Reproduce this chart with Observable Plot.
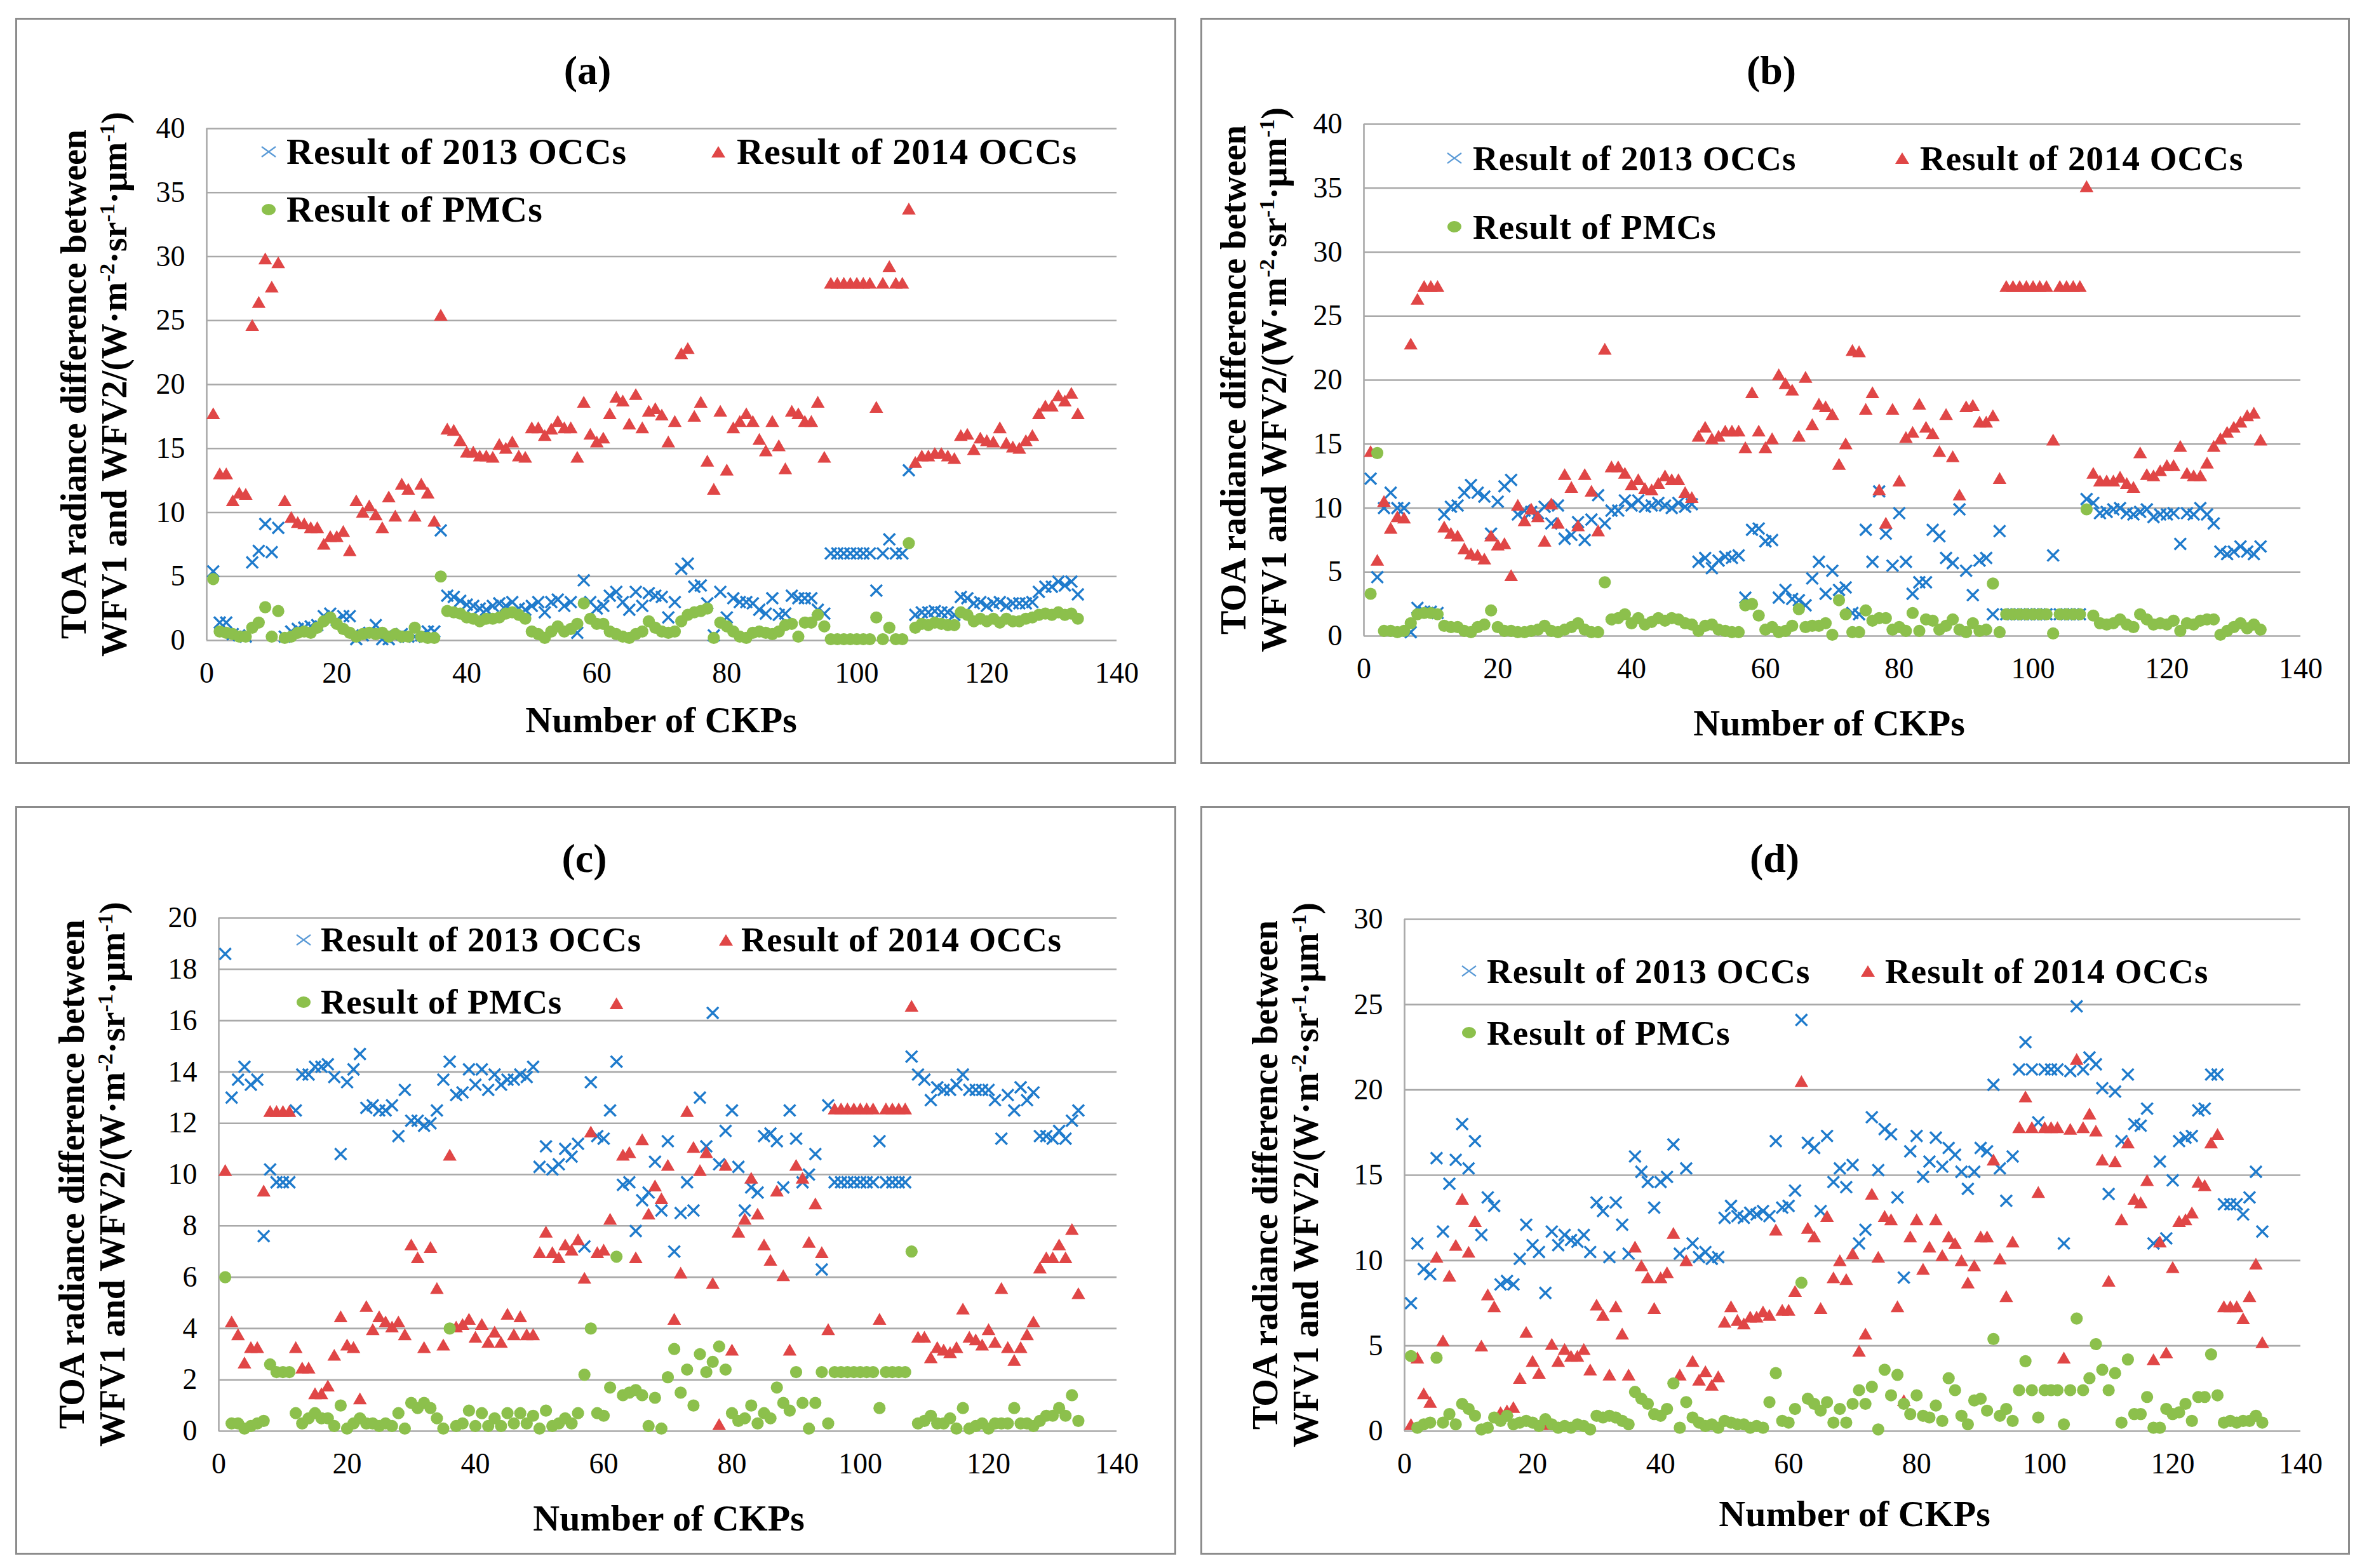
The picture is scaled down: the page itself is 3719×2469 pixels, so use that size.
<!DOCTYPE html>
<html><head><meta charset="utf-8">
<script src="https://cdn.jsdelivr.net/npm/d3@7"></script>
<script src="https://cdn.jsdelivr.net/npm/@observablehq/plot@0.6"></script>
<style>
html,body{margin:0;padding:0;background:#fff;}
#root{position:relative;width:3719px;height:2469px;background:#fff;overflow:hidden;font-family:"Liberation Serif","Times New Roman",serif;color:#000;}
.box{position:absolute;border:3px solid #8c8c8c;box-sizing:border-box;}
.abs{position:absolute;white-space:nowrap;}
.title{font-weight:bold;font-size:64px;line-height:1;transform:translate(-50%,-50%);}
.xlab{font-weight:bold;font-size:58px;line-height:1;transform:translate(-50%,-50%);}
.ylab{font-weight:bold;font-size:56px;line-height:64px;text-align:center;transform:translate(-50%,-50%) rotate(-90deg);}
.ylab sup{font-size:0.62em;line-height:0;vertical-align:0.55em;}
.leg{font-weight:bold;line-height:1;letter-spacing:1px;transform:translateY(-50%);}
.plotwrap{position:absolute;}
.plotwrap svg{max-width:none !important;overflow:visible;}
</style></head><body><div id="root"></div>
<script>
// ---------- data ----------
const ckp = d3.range(1, 135); // CKP numbers 1..134
const xTicks = [0, 20, 40, 60, 80, 100, 120, 140];
const yTicksA = [0, 5, 10, 15, 20, 25, 30, 35, 40];
const yTicksB = [0, 5, 10, 15, 20, 25, 30, 35, 40];
const yTicksC = [0, 2, 4, 6, 8, 10, 12, 14, 16, 18, 20];
const yTicksD = [0, 5, 10, 15, 20, 25, 30];
const seriesNames = ["Result of 2013 OCCs", "Result of 2014 OCCs", "Result of PMCs"];
const panelTitles = ["(a)", "(b)", "(c)", "(d)"];

const a2013 = [5.4,1.4,1.4,0.5,0.4,0.3,6.1,7.0,9.1,6.9, 8.8,0.3,0.7,0.9,1.0,1.1,1.2,1.9,2.1,1.6, 1.9,1.9,0.1,0.4,0.6,1.2,0.1,0.1,0.3,0.5, 0.3,0.3,0.4,0.7,0.7,8.6,3.5,3.4,3.1,2.8, 2.7,2.5,2.4,2.7,2.9,2.7,3.0,2.5,2.4,2.7, 3.0,2.2,3.0,3.2,2.7,3.0,0.6,4.7,3.0,2.5, 2.7,3.5,3.8,3.0,2.4,3.8,2.7,3.7,3.5,3.4, 1.8,3.0,5.6,6.0,4.2,4.3,2.9,0.4,3.8,1.8, 3.3,3.0,3.0,2.9,2.4,2.1,3.3,2.0,2.1,3.5, 3.3,3.3,3.3,2.4,2.1,6.8,6.8,6.8,6.8,6.8, 6.8,6.8,3.9,6.8,7.9,6.8,6.8,13.3,2.0,2.2, 2.2,2.3,2.2,2.2,2.0,3.4,3.3,2.9,3.0,2.7, 2.9,3.0,2.7,2.9,2.9,2.9,3.0,3.8,4.2,4.2, 4.6,4.3,4.6,3.6];
const a2014 = [17.6,12.9,12.9,10.8,11.4,11.3,24.5,26.3,29.7,27.5, 29.4,10.8,9.5,9.1,9.0,8.7,8.7,7.4,8.0,8.0, 8.4,6.9,10.8,9.9,10.4,9.7,8.7,11.1,9.6,12.1, 11.7,9.6,12.1,11.4,9.2,25.3,16.4,16.3,15.5,14.6, 14.6,14.3,14.3,14.2,15.2,14.9,15.4,14.3,14.2,16.5, 16.5,15.9,16.4,17.0,16.5,16.5,14.2,18.5,16.0,15.4, 15.7,17.6,18.9,18.6,16.8,19.1,16.5,17.8,18.0,17.5, 15.4,17.0,22.3,22.7,17.4,18.5,13.9,11.7,17.8,13.2, 16.5,17.0,17.6,17.0,15.6,14.7,17.0,15.1,13.3,17.8, 17.6,17.0,17.0,18.5,14.2,27.8,27.8,27.8,27.8,27.8, 27.8,27.8,18.1,27.8,29.1,27.8,27.8,33.6,13.8,14.3, 14.3,14.5,14.5,14.3,14.1,15.9,16.0,14.8,15.7,15.5, 15.4,16.5,15.3,15.0,14.9,15.5,15.9,17.6,18.2,18.2, 19.0,18.6,19.2,17.6];
const aPMC = [4.8,0.7,0.6,0.5,0.3,0.3,1.0,1.4,2.6,0.3, 2.3,0.2,0.3,0.6,0.7,0.6,1.0,1.5,1.8,1.3, 0.9,0.6,0.3,0.5,0.6,0.5,0.6,0.3,0.5,0.3, 0.3,1.0,0.3,0.2,0.2,5.0,2.3,2.2,2.1,1.8, 1.7,1.5,1.7,1.7,1.8,2.1,2.2,2.0,1.7,0.7, 0.5,0.2,0.7,1.1,0.7,0.9,1.3,2.9,1.7,1.3, 1.3,0.7,0.5,0.3,0.2,0.5,0.7,1.5,1.0,0.7, 0.6,0.7,1.5,2.0,2.2,2.3,2.5,0.2,1.4,1.1, 0.7,0.3,0.2,0.6,0.7,0.6,0.5,0.7,1.2,1.3, 0.3,1.4,1.4,2.0,1.1,0.1,0.1,0.1,0.1,0.1, 0.1,0.1,1.8,0.1,1.0,0.1,0.1,7.6,1.0,1.3, 1.2,1.4,1.3,1.2,1.2,2.2,2.0,1.5,1.7,1.5, 1.7,1.4,1.7,1.5,1.5,1.7,1.8,2.0,2.1,2.0, 2.2,2.0,2.1,1.7];

const b2013 = [12.3,4.6,10.0,11.2,10.0,10.0,0.3,2.2,1.9,1.9, 1.8,9.5,10.1,10.2,11.2,11.8,11.2,10.9,8.0,10.5, 11.7,12.2,9.5,9.8,9.7,9.6,10.1,8.8,10.2,7.6, 7.9,8.9,7.5,9.1,11.0,8.8,9.8,9.8,10.6,10.2, 10.6,10.1,10.2,10.4,10.2,10.0,10.4,10.1,10.3,5.8, 6.1,5.3,5.9,6.2,6.1,6.3,3.0,8.3,8.4,7.4, 7.5,3.0,3.6,2.9,2.8,2.4,4.5,5.8,3.3,5.1, 3.6,3.8,1.8,1.7,8.3,5.8,11.3,8.0,5.5,9.6, 5.8,3.3,4.2,4.2,8.3,7.8,6.1,5.7,9.9,5.1, 3.2,5.9,6.1,1.7,8.2,1.7,1.7,1.7,1.7,1.7, 1.7,1.7,6.3,1.7,1.7,1.7,1.7,10.7,10.4,9.6, 9.7,9.9,10.0,9.6,9.5,9.7,9.9,9.3,9.5,9.5, 9.6,7.2,9.6,9.5,10.0,9.5,8.8,6.6,6.4,6.6, 7.0,6.6,6.4,7.0];
const b2014 = [14.3,5.8,10.4,8.3,9.2,9.1,22.7,26.2,27.2,27.2, 27.2,8.4,7.9,7.7,6.7,6.3,6.2,5.9,7.7,7.0, 7.1,4.6,10.1,8.9,9.8,9.2,7.3,10.2,8.7,12.5, 11.5,8.5,12.5,11.2,8.1,22.3,13.1,13.1,12.6,11.7, 12.1,11.4,11.3,11.8,12.4,12.1,12.1,11.1,10.7,15.5, 16.2,15.3,15.5,15.9,15.9,15.9,14.6,18.9,15.9,14.6, 15.3,20.3,19.6,19.1,15.5,20.1,16.4,18.0,17.8,17.2, 13.3,14.9,22.2,22.1,17.6,18.9,11.3,8.7,17.6,12.0, 15.4,15.8,18.0,16.2,15.7,14.3,17.2,13.9,10.9,17.8, 17.9,16.6,16.6,17.1,12.2,27.2,27.2,27.2,27.2,27.2, 27.2,27.2,15.2,27.2,27.2,27.2,27.2,35.0,12.6,12.0, 12.0,12.0,12.3,11.8,11.5,14.2,12.5,12.4,12.8,13.2, 13.2,14.7,12.6,12.4,12.4,13.4,14.7,15.3,15.8,16.2, 16.6,17.1,17.3,15.2];
const bPMC = [3.3,14.3,0.4,0.4,0.3,0.4,1.0,1.7,1.8,1.8, 1.7,0.8,0.7,0.7,0.4,0.3,0.7,0.9,2.0,0.7, 0.4,0.4,0.3,0.3,0.4,0.5,0.8,0.4,0.3,0.5, 0.7,1.0,0.5,0.3,0.3,4.2,1.3,1.4,1.7,1.0, 1.4,0.9,1.1,1.4,1.2,1.4,1.3,1.0,0.9,0.4, 0.8,0.9,0.5,0.4,0.3,0.3,2.4,2.5,1.6,0.5, 0.7,0.3,0.4,0.8,2.1,0.7,0.8,0.8,1.0,0.1, 2.8,1.7,0.3,0.3,2.0,1.2,1.4,1.4,0.5,0.7, 0.4,1.8,0.4,1.3,1.2,0.5,0.8,1.3,0.5,0.3, 1.0,0.4,0.5,4.1,0.3,1.7,1.7,1.7,1.7,1.7, 1.7,1.7,0.2,1.7,1.7,1.7,1.7,9.9,1.6,1.0, 0.9,1.0,1.3,0.9,0.7,1.7,1.3,0.9,1.0,0.9, 1.2,0.4,1.0,0.9,1.2,1.3,1.3,0.1,0.4,0.7, 1.0,0.6,0.9,0.5];

const c2013 = [18.6,13.0,13.7,14.2,13.5,13.7,7.6,10.2,9.7,9.7, 9.7,12.5,13.9,13.9,14.2,14.2,14.3,13.8,10.8,13.6, 14.1,14.7,12.6,12.7,12.5,12.5,12.7,11.5,13.3,12.1, 12.1,11.9,12.0,12.5,13.7,14.4,13.1,13.2,14.1,13.5, 14.1,13.3,13.9,13.5,13.7,13.7,13.9,13.8,14.2,10.3, 11.1,10.2,10.4,11.0,10.7,11.2,7.2,13.6,11.5,11.4, 12.5,14.4,9.6,9.7,7.8,9.0,9.3,10.5,8.6,11.3, 7.0,8.5,9.7,8.6,13.0,11.1,16.3,10.4,11.7,12.5, 10.3,8.6,9.5,9.3,11.5,11.6,11.3,9.5,12.5,11.4, 9.7,10.0,10.8,6.3,12.7,9.7,9.7,9.7,9.7,9.7, 9.7,9.7,11.3,9.7,9.7,9.7,9.7,14.6,13.9,13.7, 12.9,13.4,13.3,13.3,13.5,13.9,13.3,13.3,13.3,13.3, 12.9,11.4,13.1,12.5,13.4,12.9,13.2,11.5,11.5,11.4, 11.7,11.4,12.1,12.5];
const c2014 = [10.1,4.2,3.7,2.6,3.2,3.2,9.3,12.4,12.4,12.4, 12.4,3.2,2.4,2.4,1.4,1.4,1.7,2.9,4.4,3.3, 3.2,1.2,4.8,3.9,4.4,4.2,4.0,4.2,3.7,7.2, 6.7,3.2,7.1,5.5,3.3,10.7,4.0,4.1,4.3,3.6, 4.1,3.4,3.8,3.4,4.5,3.7,4.4,3.7,3.7,6.9, 7.7,6.9,6.7,7.2,7.0,7.4,5.9,11.6,6.9,7.0, 8.2,16.6,10.7,10.8,6.7,11.3,8.4,9.5,9.0,10.3, 4.3,6.1,12.4,11.0,10.1,10.8,5.7,0.2,10.3,3.1, 7.7,8.2,9.8,8.4,7.2,6.6,9.3,6.0,3.1,10.3, 9.8,7.3,8.8,6.9,3.9,12.5,12.5,12.5,12.5,12.5, 12.5,12.5,4.3,12.5,12.5,12.5,12.5,16.5,3.6,3.6, 2.8,3.2,3.1,3.0,3.2,4.7,3.6,3.5,3.3,3.9, 3.4,5.5,3.2,2.7,3.2,3.7,4.2,6.3,6.7,6.7, 7.2,6.7,7.8,5.3];
const cPMC = [6.0,0.3,0.3,0.1,0.2,0.3,0.4,2.6,2.3,2.3, 2.3,0.7,0.3,0.5,0.7,0.5,0.5,0.2,1.0,0.1, 0.3,0.5,0.3,0.3,0.2,0.3,0.2,0.7,0.1,1.1, 0.9,1.1,0.9,0.5,0.1,4.0,0.2,0.3,0.8,0.2, 0.7,0.2,0.5,0.2,0.7,0.3,0.7,0.3,0.6,0.1, 0.8,0.2,0.3,0.5,0.3,0.7,2.2,4.0,0.7,0.6, 1.7,6.8,1.4,1.5,1.6,1.4,0.2,1.3,0.1,2.1, 3.2,1.5,2.4,1.0,3.0,2.3,2.7,3.3,2.4,0.7, 0.4,0.5,1.0,0.3,0.7,0.5,1.7,1.1,0.8,2.3, 1.1,0.1,1.1,2.3,0.3,2.3,2.3,2.3,2.3,2.3, 2.3,2.3,0.9,2.3,2.3,2.3,2.3,7.0,0.3,0.4, 0.6,0.3,0.3,0.5,0.1,0.9,0.1,0.2,0.3,0.1, 0.3,0.3,0.3,0.9,0.3,0.3,0.2,0.4,0.6,0.6, 0.9,0.6,1.4,0.4];

const d2013 = [7.5,11.0,9.5,9.2,16.0,11.7,14.5,15.9,18.0,15.4, 17.0,11.5,13.7,13.2,8.6,8.8,8.6,10.1,12.1,10.9, 10.5,8.1,11.7,10.9,11.5,11.2,11.1,11.5,10.5,13.4, 12.9,10.2,13.4,12.1,10.4,16.1,15.2,14.6,13.1,14.6, 14.9,16.8,10.4,15.4,11.0,10.2,10.5,10.1,10.2,12.5, 13.2,12.6,12.5,12.8,12.7,12.9,12.6,17.0,13.1,13.2, 14.1,24.1,16.9,16.6,12.9,17.3,14.6,15.4,14.3,15.6, 11.0,11.8,18.4,15.3,17.7,17.4,13.7,9.0,16.4,17.3, 14.9,15.8,17.2,15.5,16.6,16.2,15.2,14.2,15.2,16.6, 16.4,20.3,15.4,13.5,16.1,21.2,22.8,21.2,18.1,21.2, 21.2,21.2,11.0,21.1,24.9,21.2,21.9,21.5,20.1,13.9, 19.9,17.0,20.9,18.0,17.9,18.9,11.0,15.8,11.3,14.7, 17.0,17.2,17.3,18.8,18.9,20.9,20.9,13.3,13.3,13.3, 12.7,13.7,15.2,11.7];
const d2014 = [0.3,4.2,2.1,1.6,10.1,5.2,9.0,10.8,13.5,10.4, 12.2,4.9,7.9,7.2,1.0,1.1,1.3,3.0,5.7,4.0, 3.3,0.3,5.0,4.0,4.7,4.3,4.3,4.7,3.5,7.3, 6.7,3.2,7.2,5.6,3.2,10.7,9.6,8.9,7.1,8.9, 9.2,11.5,3.2,9.9,4.0,2.9,3.4,2.6,3.1,6.3, 7.2,6.4,6.2,6.6,6.6,6.9,6.7,11.7,7.0,7.0, 8.1,20.4,11.8,11.3,7.1,12.5,8.9,9.9,8.8,10.3, 4.6,5.6,13.8,10.1,12.5,12.3,7.2,1.7,11.3,12.3, 9.4,10.7,12.3,10.2,11.3,10.9,9.9,8.6,9.6,11.3, 11.3,15.8,10.0,7.8,11.0,17.7,19.5,17.7,13.9,17.7, 17.7,17.7,4.2,17.6,21.7,17.7,18.5,17.5,15.8,8.7, 15.7,12.3,16.8,13.5,13.3,14.6,4.1,11.0,4.5,9.5, 12.2,12.3,12.7,14.5,14.3,16.8,17.3,7.2,7.2,7.2, 6.5,7.8,9.7,5.1];
const dPMC = [4.4,0.2,0.4,0.5,4.3,0.5,1.0,0.4,1.6,1.3, 0.9,0.1,0.2,0.8,0.6,0.9,0.4,0.5,0.6,0.5, 0.3,0.7,0.4,0.2,0.3,0.2,0.4,0.3,0.1,0.9, 0.8,0.9,0.8,0.6,0.4,2.3,1.9,1.6,1.0,0.9, 1.3,2.8,0.2,1.7,0.8,0.5,0.3,0.4,0.2,0.6, 0.5,0.4,0.4,0.2,0.3,0.2,1.7,3.4,0.6,0.5, 1.3,8.7,1.9,1.6,1.2,1.7,0.5,1.3,0.5,1.6, 2.4,1.6,2.6,0.1,3.6,2.1,3.3,1.6,1.0,2.1, 0.9,0.8,1.5,0.6,3.1,2.4,0.9,0.4,1.8,1.9, 1.2,5.4,0.9,1.3,0.6,2.4,4.1,2.4,0.8,2.4, 2.4,2.4,0.4,2.4,6.6,2.4,3.1,5.1,3.6,2.4, 3.4,0.5,4.2,1.0,1.0,2.0,0.2,0.2,1.3,1.0, 1.1,1.6,0.6,2.0,2.0,4.5,2.1,0.5,0.6,0.5, 0.6,0.6,0.9,0.5];

// ---------- styling / layout ----------
const BLUE = "#1f7bcc", RED = "#e04646", GREEN = "#8cc04c", GRID = "#a9a9a9";
const LEG_BLUE = "#5a9ad6";

const panels = [
  {title: panelTitles[0], s: [a2013, a2014, aPMC], yMax: 40, yTicks: yTicksA,
   box: [24, 28, 1852, 1203], plot: [325, 1758, 202, 1008], titlePos: [925, 111],
   ylabPos: [148, 605], xlabPos: [1041, 1134], legFont: 58,
   leg: {r1: 239, r2: 330, m1: 423, t1: 451, m2: 1131, t2: 1160}},
  {title: panelTitles[1], s: [b2013, b2014, bPMC], yMax: 40, yTicks: yTicksB,
   box: [1890, 28, 3700, 1203], plot: [2147, 3622, 195, 1001], titlePos: [2789, 111],
   ylabPos: [1974, 598], xlabPos: [2880, 1139], legFont: 55,
   leg: {r1: 249, r2: 357, m1: 2290, t1: 2319, m2: 2995, t2: 3023}},
  {title: panelTitles[2], s: [c2013, c2014, cPMC], yMax: 20, yTicks: yTicksC,
   box: [24, 1269, 1852, 2448], plot: [344, 1758, 1445, 2253], titlePos: [920, 1352],
   ylabPos: [145, 1849], xlabPos: [1053, 2391], legFont: 54.5,
   leg: {r1: 1480, r2: 1578, m1: 478, t1: 505, m2: 1143, t2: 1167}},
  {title: panelTitles[3], s: [d2013, d2014, dPMC], yMax: 30, yTicks: yTicksD,
   box: [1890, 1269, 3700, 2448], plot: [2211, 3622, 1447, 2253], titlePos: [2794, 1352],
   ylabPos: [2024, 1850], xlabPos: [2920, 2384], legFont: 55,
   leg: {r1: 1529, r2: 1626, m1: 2313, t1: 2341, m2: 2941, t2: 2968}}
];

const root = document.getElementById("root");
function el(cls, html, left, top, fontSize) {
  const d = document.createElement("div");
  d.className = cls;
  d.innerHTML = html;
  d.style.left = left + "px";
  d.style.top = top + "px";
  if (fontSize) d.style.fontSize = fontSize + "px";
  root.appendChild(d);
  return d;
}
function legendMarker(kind, cx, cy) {
  const s = 30;
  const d = document.createElement("div");
  d.className = "abs";
  d.style.left = (cx - s / 2) + "px";
  d.style.top = (cy - s / 2) + "px";
  let inner = "";
  if (kind === 0) inner = `<path d="M4,7 L26,23 M4,23 L26,7" stroke="${LEG_BLUE}" stroke-width="2.2" fill="none"/>`;
  if (kind === 1) inner = `<path d="M15,6 L26,24 L4,24 Z" fill="${RED}"/>`;
  if (kind === 2) inner = `<ellipse cx="15" cy="15" rx="11" ry="9" fill="${GREEN}"/>`;
  d.innerHTML = `<svg width="${s}" height="${s}" viewBox="0 0 ${s} ${s}">${inner}</svg>`;
  root.appendChild(d);
}

panels.forEach(p => {
  const [bl, bt, br, bb] = p.box;
  const box = document.createElement("div");
  box.className = "box";
  Object.assign(box.style, {left: bl + "px", top: bt + "px", width: (br - bl) + "px", height: (bb - bt) + "px"});
  root.appendChild(box);

  const [x0, x1, y0, y1] = p.plot;
  const ML = 150, MR = 40, MT = 30, MB = 110;
  const W = (x1 - x0) + ML + MR, H = (y1 - y0) + MT + MB;
  const rows = ckp.map((x, i) => ({ckp: x, occ13: p.s[0][i], occ14: p.s[1][i], pmc: p.s[2][i]}));

  const chart = Plot.plot({
    width: W, height: H,
    marginLeft: ML, marginRight: MR, marginTop: MT, marginBottom: MB,
    style: {fontFamily: "'Liberation Serif', 'Times New Roman', serif", fontSize: "46px", background: "transparent", color: "#000", overflow: "visible", maxWidth: "none"},
    x: {domain: [0, 140], ticks: xTicks, tickSize: 0, tickPadding: 34, label: null, tickFormat: d => String(d)},
    y: {domain: [0, p.yMax], ticks: p.yTicks, tickSize: 0, tickPadding: 34, label: null, tickFormat: d => String(d)},
    marks: [
      Plot.ruleY(p.yTicks, {stroke: GRID, strokeWidth: 2.6}),
      Plot.ruleX([0], {stroke: GRID, strokeWidth: 2.6}),
      Plot.dot(rows, {x: "ckp", y: "occ13", symbol: "times", r: 8.3, stroke: BLUE, strokeWidth: 3.4}),
      Plot.dot(rows, {x: "ckp", y: "occ14", symbol: "triangle", r: 8, fill: RED, stroke: "none"}),
      Plot.dot(rows, {x: "ckp", y: "pmc", symbol: "circle", r: 9.6, fill: GREEN, stroke: "none"})
    ]
  });
  const wrap = document.createElement("div");
  wrap.className = "plotwrap";
  Object.assign(wrap.style, {left: (x0 - ML) + "px", top: (y0 - MT) + "px", width: W + "px", height: H + "px"});
  wrap.appendChild(chart);
  root.appendChild(wrap);

  el("abs title", p.title, p.titlePos[0], p.titlePos[1]);
  el("abs xlab", "Number of CKPs", p.xlabPos[0], p.xlabPos[1]);
  el("abs ylab", "TOA radiance difference between<br>WFV1 and WFV2/(W·m<sup>-2</sup>·sr<sup>-1</sup>·μm<sup>-1</sup>)", p.ylabPos[0], p.ylabPos[1]);

  const L = p.leg;
  legendMarker(0, L.m1, L.r1); el("abs leg", seriesNames[0], L.t1, L.r1, p.legFont);
  legendMarker(1, L.m2, L.r1); el("abs leg", seriesNames[1], L.t2, L.r1, p.legFont);
  legendMarker(2, L.m1, L.r2); el("abs leg", seriesNames[2], L.t1, L.r2, p.legFont);
});
</script></body></html>
